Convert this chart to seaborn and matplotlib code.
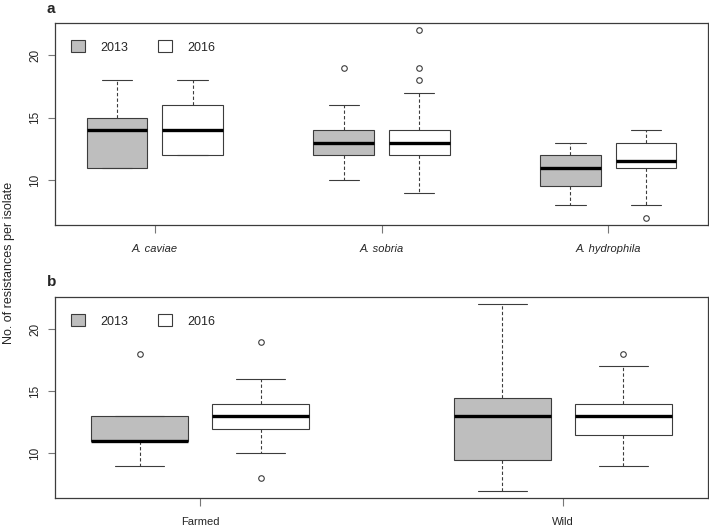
import matplotlib
matplotlib.use("Agg")
import matplotlib.pyplot as plt
from matplotlib.patches import Patch
import pandas as pd
import seaborn as sns

YEARS = ["2013", "2016"]
SPECIES = ["A. caviae", "A. sobria", "A. hydrophila"]
ORIGINS = ["Farmed", "Wild"]

# box summaries: lower whisker, Q1, median, Q3, upper whisker
species_2013 = [[11, 11, 14, 15, 18], [10, 12, 13, 14, 16], [8, 9.5, 11, 12, 13]]
species_2016 = [[12, 12, 14, 16, 18], [9, 12, 13, 14, 17], [8, 11, 11.5, 13, 14]]
species_out_2013 = [[], [19], []]
species_out_2016 = [[], [18, 19, 22], [7]]

origin_2013 = [[9, 11, 11, 13, 13], [7, 9.5, 13, 14.5, 22]]
origin_2016 = [[10, 12, 13, 14, 16], [9, 11.5, 13, 14, 17]]
origin_out_2013 = [[18], []]
origin_out_2016 = [[8, 19], [18]]

PALETTE = {"2013": "#BEBEBE", "2016": "#FFFFFF"}
EDGE = "#3C3C3C"
W, H = 709, 528


def expand(five, outliers):
    # a sample whose quartiles / whiskers reproduce the summary
    lo, q1, med, q3, hi = five
    return list(outliers) + [lo] + [q1] * 10 + [med] * 5 + [q3] * 10 + [hi]


def build_frame(groups, s2013, s2016, o2013, o2016):
    rows = []
    for i, g in enumerate(groups):
        for year, summ, outs in (("2013", s2013, o2013), ("2016", s2016, o2016)):
            for v in expand(summ[i], outs[i]):
                rows.append({"group": g, "year": year, "n": v})
    return pd.DataFrame(rows)


def draw_panel(ax, df, order, italic):
    sns.boxplot(
        data=df, x="group", y="n", hue="year", order=order, hue_order=YEARS,
        palette=PALETTE, saturation=1, width=2 / 3, gap=0.2,
        linecolor=EDGE, linewidth=0.8, legend=False, ax=ax,
        whiskerprops=dict(linestyle=(0, (3, 2))),
        medianprops=dict(color="black", linewidth=2.4),
        flierprops=dict(marker="o", markerfacecolor="none", markeredgecolor=EDGE,
                        markersize=4, markeredgewidth=0.8),
    )
    # boxes sit at R-style positions 1,2 / 4,5 / ...; pad 4% of that range
    n = len(order)
    pad = 0.04 * (3 * n - 1) / 3
    ax.set_xlim(-1 / 3 - pad, n - 1 + 1 / 3 + pad)
    ax.set_ylim(6.4, 22.6)
    ax.set_yticks([10, 15, 20])
    ax.set_xlabel("")
    ax.set_ylabel("")
    ax.tick_params(axis="y", labelrotation=90, length=5, width=0.8, color="#777777",
                   pad=5, labelsize=8.5)
    ax.tick_params(axis="x", length=5.5, width=0.8, color="#777777", pad=8, labelsize=8)
    for t in ax.get_yticklabels():
        t.set_va("center")
    if italic:
        for t in ax.get_xticklabels():
            t.set_fontstyle("italic")
    for sp in ax.spines.values():
        sp.set_visible(True)
        sp.set_color(EDGE)
        sp.set_linewidth(0.9)
    handles = [Patch(facecolor=PALETTE[y], edgecolor=EDGE, linewidth=0.8) for y in YEARS]
    ax.legend(handles, YEARS, loc="upper left", bbox_to_anchor=(0.008, 0.97), ncol=2,
              frameon=False, handlelength=1.1, handleheight=1.1, columnspacing=2.4,
              handletextpad=1.2, fontsize=9)


def main():
    sns.set_style("ticks")
    plt.rcParams["font.family"] = ["Liberation Sans", "DejaVu Sans"]

    fig = plt.figure(figsize=(W / 100, H / 100), dpi=100)
    ax_a = fig.add_axes([55 / W, 1 - 225 / H, 653 / W, 202 / H])
    ax_b = fig.add_axes([55 / W, 1 - 498 / H, 653 / W, 201 / H])

    df_a = build_frame(SPECIES, species_2013, species_2016, species_out_2013, species_out_2016)
    df_b = build_frame(ORIGINS, origin_2013, origin_2016, origin_out_2013, origin_out_2016)
    draw_panel(ax_a, df_a, SPECIES, italic=True)
    draw_panel(ax_b, df_b, ORIGINS, italic=False)

    fig.text(51 / W, 1 - 9 / H, "a", weight="bold", fontsize=11, ha="center", va="center")
    fig.text(52 / W, 1 - 282 / H, "b", weight="bold", fontsize=11, ha="center", va="center")
    fig.text(9 / W, 1 - 263 / H, "No. of resistances per isolate", rotation=90,
             ha="center", va="center", fontsize=9)

    fig.savefig("out.png", dpi=100)
    plt.close(fig)


if __name__ == "__main__":
    main()
